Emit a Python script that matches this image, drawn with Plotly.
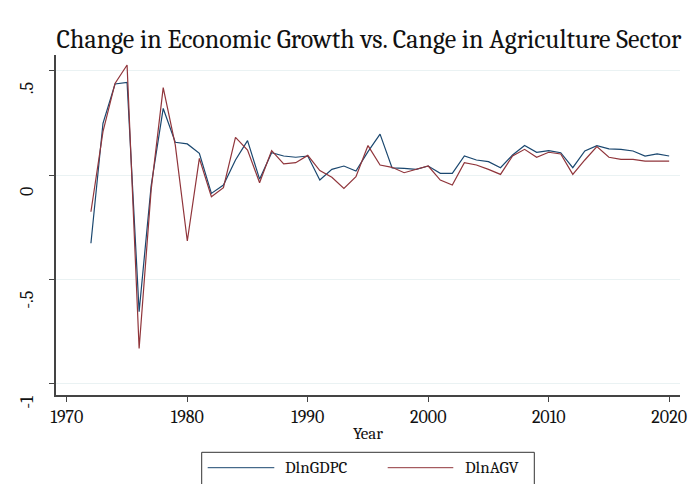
import plotly.graph_objects as go

years = list(range(1972, 2021))
dln_gdpc = [-0.327, 0.248, 0.436, 0.444, -0.655, -0.05, 0.319, 0.157, 0.149, 0.104,
            -0.088, -0.048, 0.072, 0.165, -0.02, 0.107, 0.091, 0.085, 0.091, -0.024,
            0.027, 0.043, 0.019, 0.112, 0.196, 0.034, 0.032, 0.027, 0.043, 0.008,
            0.008, 0.091, 0.072, 0.064, 0.035, 0.096, 0.141, 0.109, 0.117, 0.107,
            0.035, 0.115, 0.141, 0.125, 0.123, 0.115, 0.091, 0.101, 0.091]
dln_agv = [-0.176, 0.208, 0.439, 0.527, -0.831, -0.07, 0.419, 0.144, -0.316, 0.08,
           -0.104, -0.061, 0.18, 0.12, -0.037, 0.117, 0.053, 0.059, 0.094, 0.021,
           -0.011, -0.064, -0.008, 0.141, 0.048, 0.037, 0.011, 0.027, 0.043, -0.024,
           -0.048, 0.059, 0.048, 0.027, 0.003, 0.091, 0.123, 0.085, 0.109, 0.101,
           0.003, 0.072, 0.136, 0.085, 0.075, 0.075, 0.067, 0.067, 0.067]
y_ticks = [-1, -0.5, 0, 0.5]
y_labels = ["-1", "-.5", "0", ".5"]
x_ticks = [1970, 1980, 1990, 2000, 2010, 2020]
series_names = ["DlnGDPC", "DlnAGV"]
series_colors = ["#1a476f", "#90353b"]

serif = "Cambria, Caladea, 'Liberation Serif', 'DejaVu Serif', serif"
ink = "#111111"

# plot area in pixels (for placing the hand-drawn legend / labels)
W, H = 688, 484
ML, MR, MT, MB = 56, 8, 55, 89
PW, PH = W - ML - MR, H - MT - MB


def px(x):
    return (x - ML) / PW


def py(y):
    return (H - MB - y) / PH


fig = go.Figure()
for name, vals, col in zip(series_names, [dln_gdpc, dln_agv], series_colors):
    fig.add_trace(go.Scatter(x=years, y=vals, mode="lines", name=name,
                             line=dict(color=col, width=1.2), showlegend=False))

# rotated y tick labels (Stata style: shifted below their ticks)
annotations = []
for v, lab in zip(y_ticks, y_labels):
    annotations.append(dict(x=px(27.5), xref="paper", y=v, yref="y", text=lab,
                            textangle=-90, showarrow=False, xanchor="center",
                            yanchor="top", yshift=-10,
                            font=dict(family=serif, size=18, color=ink)))

# legend box
shapes = [dict(type="rect", xref="paper", yref="paper",
               x0=px(201.7), x1=px(534.3), y0=py(495), y1=py(452.3),
               line=dict(color="#333333", width=1), fillcolor="white", layer="above")]
leg_lines = [(207.7, 274.3, 283.3), (387.7, 453.3, 463.3)]
for (lx0, lx1, tx), name, col in zip(leg_lines, series_names, series_colors):
    shapes.append(dict(type="line", xref="paper", yref="paper",
                       x0=px(lx0), x1=px(lx1), y0=py(467.7), y1=py(467.7),
                       line=dict(color=col, width=1), layer="above"))
    annotations.append(dict(x=px(tx), xref="paper", y=py(467.7), yref="paper",
                            text=name, showarrow=False, xanchor="left",
                            yanchor="middle",
                            font=dict(family=serif, size=17, color=ink)))

fig.update_layout(
    width=W, height=H,
    margin=dict(l=ML, r=MR, t=MT, b=MB, autoexpand=False),
    paper_bgcolor="white", plot_bgcolor="white",
    font=dict(family=serif, color=ink, size=18),
    title=dict(text="Change in Economic Growth vs. Cange in Agriculture Sector",
               xref="container", x=369 / W, xanchor="center",
               y=1 - 39 / H, yanchor="middle",
               font=dict(family=serif, size=26, color=ink)),
    showlegend=False,
    annotations=annotations,
    shapes=shapes,
    xaxis=dict(range=[1969.1, 2020.9], tickvals=x_ticks, ticks="outside", ticklen=5,
               tickcolor="#444444", showline=True, linecolor="#444444", linewidth=1.5,
               showgrid=False, zeroline=False, tickfont=dict(size=18), automargin=False,
               title=dict(text="Year", standoff=0, font=dict(size=17))),
    yaxis=dict(range=[-1.054, 0.575], tickvals=y_ticks, showticklabels=False,
               ticks="outside", ticklen=5, tickcolor="#444444", automargin=False,
               showline=True, linecolor="#444444", linewidth=1.5,
               showgrid=True, gridcolor="#eaf2f3", gridwidth=1, zeroline=False),
)

fig.write_html("out.html")
